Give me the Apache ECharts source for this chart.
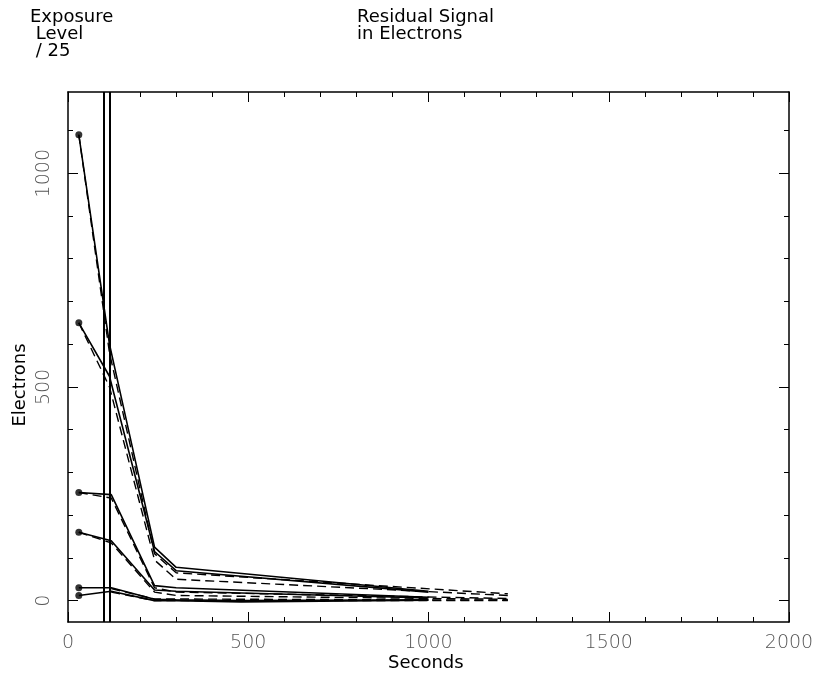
<!DOCTYPE html>
<html><head><meta charset="utf-8">
<script src="https://cdn.jsdelivr.net/npm/echarts@6/dist/echarts.min.js"></script>
<style>html,body{margin:0;padding:0;background:#fff}#c{width:818px;height:682px}</style>
</head><body><div id="c"></div>
<script>
// Measured residual signal (solid lines, dot at first point)
const measured = [
  [[30,1090],[115,600],[240,125],[300,78],[1000,22]],
  [[30,650],[115,525],[240,115],[300,70],[1000,20]],
  [[30,253],[120,248],[240,35],[300,30],[1000,8]],
  [[30,160],[120,140],[240,25],[300,22],[1000,6]],
  [[30,30],[120,30],[240,3],[300,2],[480,0],[1000,2]],
  [[30,12],[120,22],[240,0],[300,0],[480,-3],[1000,1]]
];
// Model curves (dashed)
const model = [
  [[30,1090],[115,580],[240,110],[300,65],[1220,16]],
  [[30,650],[115,500],[240,95],[300,50],[1220,12]],
  [[30,253],[120,240],[240,30],[300,20],[1220,5]],
  [[30,160],[120,135],[240,20],[300,12],[1220,3]],
  [[120,28],[240,4],[1220,1]],
  [[120,20],[240,0],[1220,0]]
];
// Exposure window markers (seconds)
const exposureLines = [100, 116];
const xMajor = [0,500,1000,1500,2000];
const xMinor = [100,200,300,400,600,700,800,900,1100,1200,1300,1400,1600,1700,1800,1900];
const yMajor = [0,500,1000];
const yMinor = [100,200,300,400,600,700,800,900,1100];

const XMIN=0, XMAX=2000, YMIN=-50, YMAX=1190;
const lblFont = {fontFamily:'DejaVu Sans', fontSize:19, color:'#555', fontWeight:'lighter', formatter: v => String(v)};
function xAx(pos, vals, len, showLabel, showLine){
  return {type:'value', position:pos, min:XMIN, max:XMAX, splitLine:{show:false},
    axisLine:{show:showLine, onZero:false, lineStyle:{color:'#000', width:1.5}},
    axisTick:{show:true, inside:true, length:len, customValues:vals, lineStyle:{color:'#000', width:1}},
    axisLabel:{show:showLabel, customValues:vals, margin:12, ...lblFont}};
}
function yAx(pos, vals, len, showLabel, showLine){
  return {type:'value', position:pos, min:YMIN, max:YMAX, splitLine:{show:false},
    axisLine:{show:showLine, onZero:false, lineStyle:{color:'#000', width:1.5}},
    axisTick:{show:true, inside:true, length:len, customValues:vals, lineStyle:{color:'#000', width:1}},
    axisLabel:{show:showLabel, customValues:vals, rotate:90, margin:14, ...lblFont}};
}
const series = [];
measured.forEach(d => series.push({type:'line', data:d, symbol:'none', silent:true,
  lineStyle:{color:'#000', width:1.6}}));
model.forEach(d => series.push({type:'line', data:d, symbol:'none', silent:true,
  lineStyle:{color:'#000', width:1.4, type:[9,5]}}));
series.push({type:'scatter', data:measured.map(d=>d[0]), symbolSize:7, itemStyle:{color:'#000'}});
series.push({type:'line', data:[], markLine:{silent:true, symbol:'none', label:{show:false},
  lineStyle:{color:'#000', width:2, type:'solid'}, data:exposureLines.map(v=>({xAxis:v}))}});

const chart = echarts.init(document.getElementById('c'), null, {renderer:'canvas'});
chart.setOption({
  backgroundColor:'#fff', animation:false,
  grid:{left:68, right:29, top:92, bottom:60, containLabel:false},
  xAxis:[xAx('bottom', xMajor, 10, true, true), xAx('bottom', xMinor, 5, false, false),
         xAx('top', xMajor, 10, false, true), xAx('top', xMinor, 5, false, false)],
  yAxis:[yAx('left', yMajor, 10, true, true), yAx('left', yMinor, 5, false, false),
         yAx('right', yMajor, 10, false, true), yAx('right', yMinor, 5, false, false)],
  series: series,
  graphic:[
    {type:'text', left:30, top:8, style:{text:'Exposure\n Level\n / 25', font:'18px "DejaVu Sans"', fill:'#000', lineHeight:17}},
    {type:'text', left:357, top:8, style:{text:'Residual Signal\nin Electrons', font:'18px "DejaVu Sans"', fill:'#000', lineHeight:17}},
    {type:'text', left:388, top:654, style:{text:'Seconds', font:'18px "DejaVu Sans"', fill:'#000'}},
    {type:'text', x:20, y:385, rotation:Math.PI/2, style:{text:'Electrons', font:'18px "DejaVu Sans"', fill:'#000', align:'center', verticalAlign:'middle'}}
  ]
});
</script></body></html>
